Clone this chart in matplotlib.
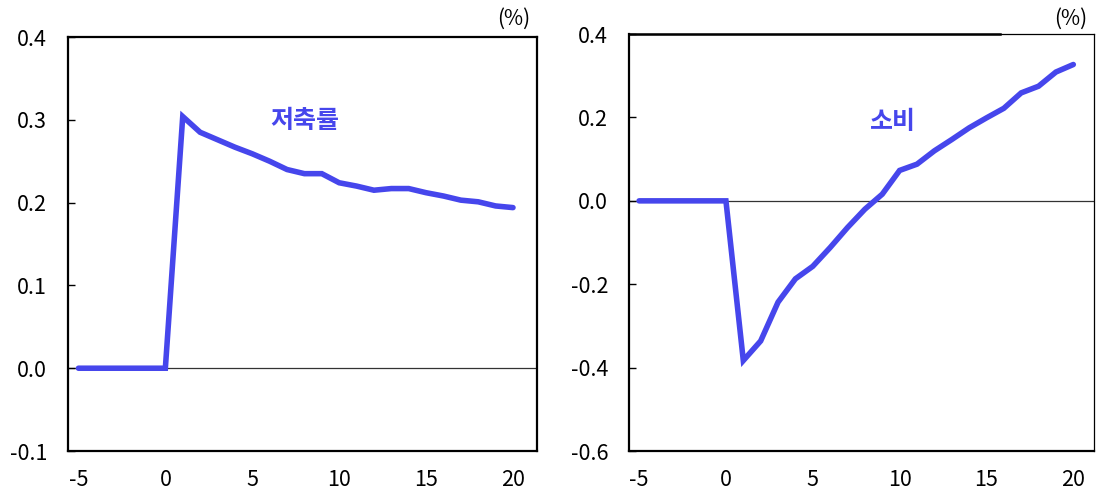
import matplotlib
matplotlib.use("Agg")
import matplotlib.pyplot as plt

plt.rcParams['font.family'] = ['Noto Sans CJK KR', 'DejaVu Sans']
plt.rcParams['axes.unicode_minus'] = False

quarters = list(range(-5, 21))
savings = [0, 0, 0, 0, 0, 0, 0.304, 0.285, 0.276, 0.267, 0.259, 0.250, 0.240, 0.235,
           0.235, 0.224, 0.220, 0.215, 0.217, 0.217, 0.212, 0.208, 0.203, 0.201, 0.196, 0.194]
consumption = [0, 0, 0, 0, 0, 0, -0.383, -0.336, -0.243, -0.187, -0.157, -0.112, -0.064,
               -0.020, 0.016, 0.073, 0.088, 0.120, 0.147, 0.175, 0.199, 0.222, 0.259,
               0.275, 0.309, 0.327]
xticks = [-5, 0, 5, 10, 15, 20]
left_yticks = [-0.1, 0.0, 0.1, 0.2, 0.3, 0.4]
right_yticks = [-0.6, -0.4, -0.2, 0.0, 0.2, 0.4]
left_title = "저축률"
right_title = "소비"
unit = "(%)"

blue = "#4646EC"
fig = plt.figure(figsize=(10.97, 4.94), dpi=100)
ax1 = fig.add_axes([0.062, 0.087, 0.4275, 0.838])
ax2 = fig.add_axes([0.5734, 0.087, 0.424, 0.844])

def style(ax, yticks, fmt):
    ax.set_xticks(xticks)
    ax.set_yticks(yticks)
    ax.set_yticklabels([fmt(v) for v in yticks])
    ax.tick_params(axis='y', direction='in', length=5, width=1, labelsize=15.5, pad=15)
    ax.tick_params(axis='x', length=0, labelsize=15.5, pad=13)
    for lab in ax.get_xticklabels() + ax.get_yticklabels():
        lab.set_fontweight('light')
    ax.axhline(0, color='#333333', lw=0.9, zorder=1)

def f(v):
    return "0.0" if abs(v) < 1e-9 else f"{v:.1f}"

ax1.plot(quarters, savings, color=blue, lw=4.0, solid_capstyle='round', solid_joinstyle='miter', zorder=3)
ax1.set_xlim(-5.6, 21.38)
ax1.set_ylim(-0.1, 0.4)
style(ax1, left_yticks, f)
for s in ax1.spines.values():
    s.set_linewidth(1.6)
ax1.text(8.0, 0.299, left_title, color=blue, fontsize=18, fontweight='bold', ha='center', va='center')
ax1.text(0.985, 1.018, unit, transform=ax1.transAxes, ha='right', va='bottom', fontsize=15, fontweight='light')

ax2.plot(quarters, consumption, color=blue, lw=4.0, solid_capstyle='round', solid_joinstyle='miter', zorder=3)
ax2.set_xlim(-5.58, 21.2)
ax2.set_ylim(-0.6, 0.4)
style(ax2, right_yticks, f)
for name, s in ax2.spines.items():
    s.set_linewidth(1.6 if name in ('left', 'bottom') else 0.9)
ax2.plot([0, 0.798], [1, 1], transform=ax2.transAxes, color='black', lw=1.8, clip_on=False, zorder=4)
ax2.text(9.63, 0.189, right_title, color=blue, fontsize=18, fontweight='bold', ha='center', va='center')
ax2.text(0.985, 1.01, unit, transform=ax2.transAxes, ha='right', va='bottom', fontsize=15, fontweight='light')

fig.savefig("out.png", dpi=100)
